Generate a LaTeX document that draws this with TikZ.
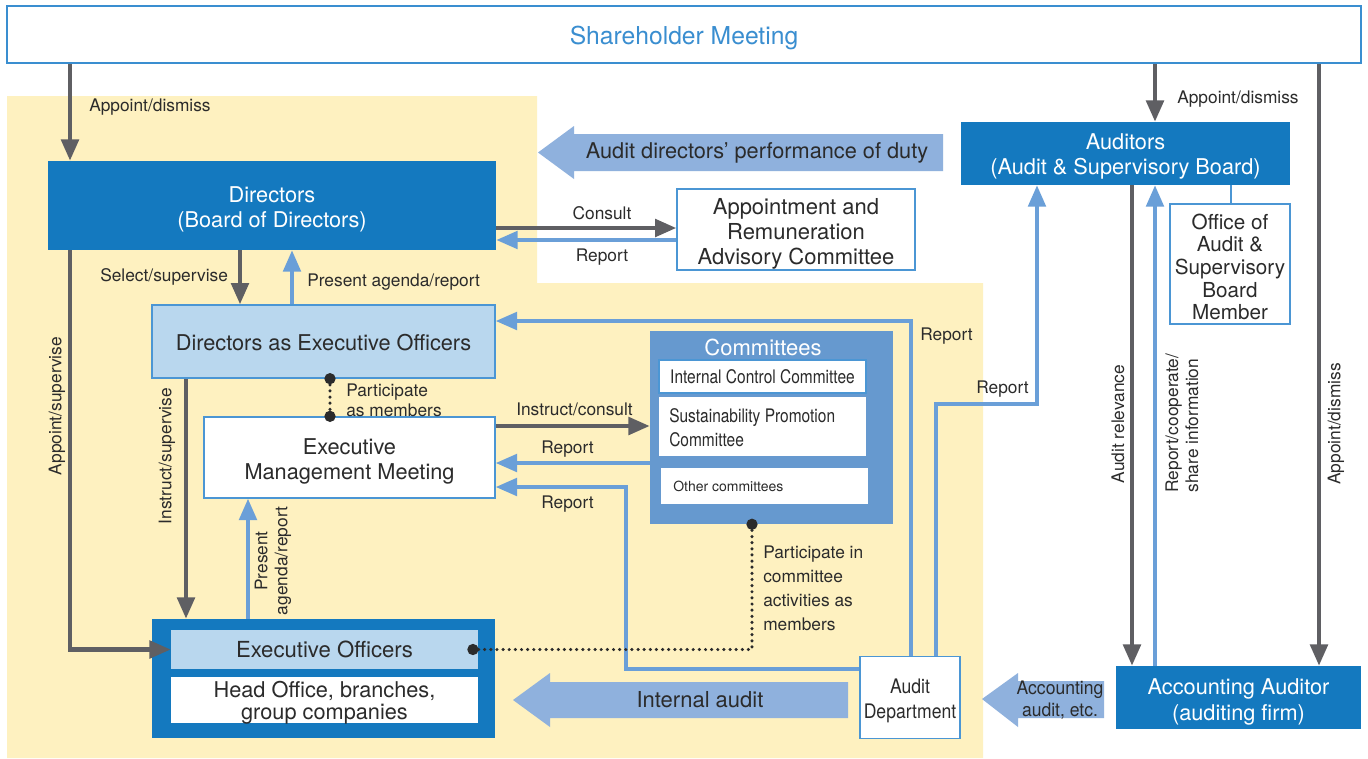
\documentclass[tikz,border=0pt]{standalone}
\usepackage{fontspec}
\setmainfont{TeX Gyre Heros}
\usepackage{graphicx}
\usetikzlibrary{arrows.meta}
\definecolor{dblue}{HTML}{1479BF}
\definecolor{lblue}{HTML}{B9D7EE}
\definecolor{bord}{HTML}{4B96D4}
\definecolor{bl}{HTML}{6A9FD8}
\definecolor{cmt}{HTML}{6699CF}
\definecolor{arr}{HTML}{8FB1DD}
\definecolor{gr}{HTML}{5F5F63}
\definecolor{txt}{HTML}{2B2B2B}
\definecolor{yel}{HTML}{FEF1C0}
\definecolor{smblue}{HTML}{3A8ED0}
\newcommand{\fs}[2]{\fontsize{#1}{#2}\selectfont}
\begin{document}
\begin{tikzpicture}[x=0.75pt,y=-0.75pt,
 box/.style={draw=bord, line width=1pt, fill=white, inner sep=0pt},
 dbox/.style={fill=dblue, inner sep=0pt},
 tx/.style={text=txt, align=center, inner sep=0pt, font=\fs{16.3}{18.75}},
 wtx/.style={text=white, align=center, inner sep=0pt, font=\fs{16.3}{18.75}},
 lab/.style={text=txt, inner sep=0pt, font=\fs{13}{15}},
 gline/.style={draw=gr, line width=3.3pt, -{Triangle[length=16pt,width=13pt]}},
 bline/.style={draw=bl, line width=3pt, -{Triangle[length=16pt,width=13pt]}},
 dotl/.style={draw=txt, line width=2.6pt, line cap=round, dash pattern=on 0pt off 4.6pt},
 dotend/.style={fill=txt, circle, inner sep=0pt, minimum size=8.5pt},
]
\useasboundingbox (0,0) rectangle (1368,758);
\fill[white] (0,0) rectangle (1368,758);
% yellow region
\fill[yel] (7,96) -- (537,96) -- (537,283) -- (983,283) -- (983,758) -- (7,758) -- cycle;

% helper coordinates
\coordinate (xa) at (70,0);
\coordinate (xb) at (240,0);
\coordinate (xc) at (292,0);
\coordinate (xd) at (186,0);
\coordinate (xe) at (248,0);
\coordinate (xf) at (330,0);
\coordinate (xg) at (626,0);
\coordinate (xh) at (911,0);
\coordinate (xi) at (936,0);
\coordinate (xj) at (1037,0);
\coordinate (xk) at (1155,0);
\coordinate (xl) at (1132,0);
\coordinate (xm) at (1319,0);
\coordinate (xn) at (1231,0);
\coordinate (xo) at (752,0);
\coordinate (ya) at (0,228);
\coordinate (yb) at (0,240);
\coordinate (yd) at (0,426);
\coordinate (ye) at (0,463);
\coordinate (yf) at (0,487);
\coordinate (yg) at (0,669);
\coordinate (yh) at (0,321);
\coordinate (yi) at (0,404);

% boxes
\node[box, draw=smblue, line width=1.5pt, minimum width=1015.5pt, minimum height=42.75pt] (SM) at (684,34.5) {};
\node[tx, text=smblue, font=\fs{18.5}{22}] (SMt) at ([yshift=-2.8pt]SM.center) {Shareholder Meeting};

\node[dbox, minimum width=336pt, minimum height=66.75pt] (D) at (272,205.5) {};
\node[wtx] (Dt) at ([yshift=-3pt]D.center) {Directors\\(Board of Directors)};

\node[box, fill=lblue, minimum width=257.25pt, minimum height=54.75pt] (DEO) at (323.5,341.5) {};
\node[tx] (DEOt) at ([yshift=-0.8pt]DEO.center) {Directors as Executive Officers};

\node[box, minimum width=218.25pt, minimum height=60.75pt] (EMM) at (349.5,457.5) {};
\node[tx] (EMMt) at ([yshift=-3pt]EMM.center) {Executive\\Management Meeting};

\node[box, minimum width=178.5pt, minimum height=60.75pt] (AR) at (796,229.5) {};
\node[tx, font=\fs{16.5}{18.75}] (ARt) at ([yshift=-3pt]AR.center) {Appointment and\\Remuneration\\Advisory Committee};

\node[fill=cmt, minimum width=182.25pt, minimum height=144.75pt, inner sep=0pt] (CM) at (771.5,427.5) {};
\node[text=white, inner sep=0pt, font=\fs{16.5}{18}] (CMt) at (763,347) {Committees};
\node[box, minimum width=155.25pt, minimum height=24.75pt] (ICC) at (762.5,376.5) {};
\node[tx, font=\fs{14}{16}] (ICCt) at (ICC.center) {\scalebox{0.83}[1]{Internal Control Committee}};
\node[fill=white, minimum width=155.25pt, minimum height=44.25pt, inner sep=0pt] (SPC) at (762.5,426.5) {};
\node[anchor=west, align=left, text=txt, inner sep=0pt, font=\fs{14}{18}] (SPCt) at (669,428) {\scalebox{0.83}[1]{Sustainability Promotion}\\\scalebox{0.83}[1]{Committee}};
\node[fill=white, minimum width=155.25pt, minimum height=27pt, inner sep=0pt] (OC) at (764.5,486) {};
\node[anchor=west, text=txt, inner sep=0pt, font=\fs{10.5}{12}] (OCt) at (673,486) {Other committees};

\node[dbox, minimum width=246.75pt, minimum height=47.25pt] (AU) at (1125.5,153.5) {};
\node[wtx] (AUt) at ([yshift=-2.3pt]AU.center) {Auditors\\(Audit \& Supervisory Board)};

\node[box, minimum width=90pt, minimum height=90pt] (OF) at (1230,264) {};
\node[tx, font=\fs{15.5}{17}] (OFt) at ([yshift=-2.3pt]OF.center) {Office of\\Audit \&\\Supervisory\\Board\\Member};

\node[dbox, minimum width=183.75pt, minimum height=47.25pt] (AA) at (1238.5,697.5) {};
\node[wtx, font=\fs{16.3}{19.5}] (AAt) at ([yshift=-3pt]AA.center) {Accounting Auditor\\(auditing firm)};

\node[box, minimum width=75pt, minimum height=61.5pt] (AD) at (910,697.5) {};
\node[tx, font=\fs{15}{18.75}] (ADt) at ([yshift=-2.3pt]AD.center) {\scalebox{0.88}[1]{Audit}\\\scalebox{0.88}[1]{Department}};

\node[fill=dblue, minimum width=257.25pt, minimum height=89.25pt, inner sep=0pt] (EO) at (323.5,678.5) {};
\node[fill=lblue, minimum width=230.25pt, minimum height=29.25pt, inner sep=0pt] (EOi) at (324.5,649.5) {};
\node[tx, font=\fs{16.6}{18}] (EOit) at (EOi.center) {Executive Officers};
\node[fill=white, minimum width=230.25pt, minimum height=34.5pt, inner sep=0pt] (HO) at (324.5,700) {};
\node[tx, font=\fs{16.3}{16.5}] (HOt) at ([yshift=-2.3pt]HO.center) {Head Office, branches,\\group companies};

% big arrows
\fill[arr] (943,134) -- (574,134) -- (574,126) -- (538,152.5) -- (574,179) -- (574,171) -- (943,171) -- cycle;
\node[tx, font=\fs{16.3}{18}] (ADirt) at (757,153) {Audit directors’ performance of duty};
\fill[arr] (848,682) -- (550,682) -- (550,673) -- (513,700) -- (550,727) -- (550,718) -- (848,718) -- cycle;
\node[tx, font=\fs{16.5}{18}] (IAt) at (700,700) {Internal audit};
\fill[arr] (1104,681) -- (1018,681) -- (1018,673) -- (982,699) -- (1018,727) -- (1018,718) -- (1104,718) -- cycle;
\node[tx, font=\fs{14}{16.5}] (AAat) at (1060,700) {\scalebox{0.94}[1]{Accounting}\\\scalebox{0.94}[1]{audit, etc.}};

% connectors
\draw[gline] (SM.south -| xa) -- (D.north -| xa);
\draw[gline] (SM.south -| xk) -- (AU.north -| xk);
\draw[gline] (SM.south -| xm) -- (AA.north -| xm);
\draw[gline] (D.south -| xa) |- (EOi.west);
\draw[gline] (D.south -| xb) -- (DEO.north -| xb);
\draw[bline] (DEO.north -| xc) -- (D.south -| xc);
\draw[gline] (D.east |- ya) -- (AR.west |- ya);
\draw[bline] (AR.west |- yb) -- (D.east |- yb);
\draw[gline] (DEO.south -| xd) -- (EO.north -| xd);
\draw[bline] (EO.north -| xe) -- (EMM.south -| xe);
\draw[gline] (EMM.east |- yd) -- (CM.west |- yd);
\draw[bline] (CM.west |- ye) -- (EMM.east |- ye);
\draw[bline] (AD.west |- yg) -| (xg |- yf) -- (EMM.east |- yf);
\draw[bline] (AD.north -| xh) |- (DEO.east |- yh);
\draw[bline] (AD.north -| xi) |- (xj |- yi) -- (AU.south -| xj);
\draw[gline] (AU.south -| xl) -- (AA.north -| xl);
\draw[bline] (AA.north -| xk) -- (AU.south -| xk);
\draw[draw=bord, line width=1pt] (AU.south -| xn) -- (OF.north -| xn);

% dotted participation lines
\draw[dotl] (DEO.south -| xf) -- (EMM.north -| xf);
\node[dotend] (p1) at (DEO.south -| xf) {};
\node[dotend] (p2) at (EMM.north -| xf) {};
\draw[dotl] (CM.south -| xo) |- ([xshift=-1pt]EOi.east);
\node[dotend] (p3) at (CM.south -| xo) {};
\node[dotend] (p4) at ([xshift=-4pt]EOi.east) {};

% labels
\node[lab, anchor=west] (l1) at (89,107) {Appoint/dismiss};
\node[lab, anchor=west] (l2) at (1177,99) {Appoint/dismiss};
\node[lab, rotate=90] (l3) at (1336,424) {Appoint/dismiss};
\node[lab, rotate=90] (l4) at (57,406) {Appoint/supervise};
\node[lab, anchor=west] (l5) at (100,277) {Select/supervise};
\node[lab, anchor=west] (l6) at (307,282) {Present agenda/report};
\node[lab] (l7) at (602,213) {Consult};
\node[lab] (l8) at (602,257) {Report};
\node[lab, rotate=90] (l9) at (167,456) {Instruct/supervise};
\node[lab, rotate=90, align=center, font=\fs{13}{15}] (l10) at (273,561) {Present\\agenda/report};
\node[lab, anchor=west, align=left, font=\fs{13}{15}] (l11) at (346,400) {Participate\\as members};
\node[lab, anchor=west] (l12) at (516,409) {Instruct/consult};
\node[lab, anchor=west] (l13) at (541,449) {Report};
\node[lab, anchor=west] (l14) at (541,504) {Report};
\node[lab, anchor=west] (l15) at (920,336) {Report};
\node[lab, anchor=west] (l16) at (976,389) {Report};
\node[lab, anchor=west, align=left, font=\fs{13}{18}] (l17) at (763,588) {Participate in\\committee\\activities as\\members};
\node[lab, rotate=90] (l18) at (1118,424) {Audit relevance};
\node[lab, rotate=90, align=left, font=\fs{13}{15}] (l19) at (1182,423) {Report/cooperate/\\share information};
\end{tikzpicture}
\end{document}
